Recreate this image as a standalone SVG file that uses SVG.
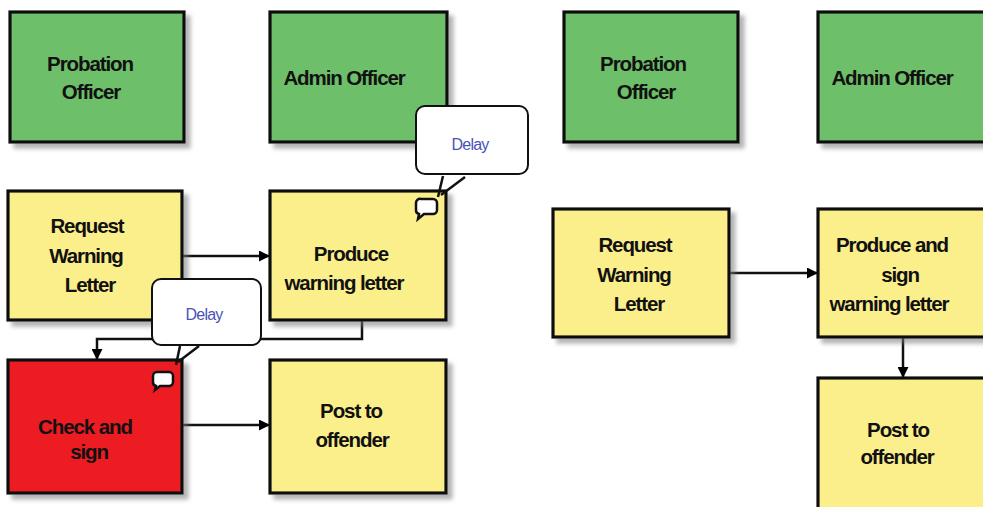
<svg xmlns="http://www.w3.org/2000/svg" width="983" height="507" viewBox="0 0 983 507">
<defs>
<filter id="sh" x="-10%" y="-10%" width="130%" height="130%">
<feDropShadow dx="5" dy="5" stdDeviation="2" flood-color="#777" flood-opacity="0.55"/>
</filter>
<marker id="ah" viewBox="0 0 10 10" refX="10" refY="5" markerWidth="11" markerHeight="11" markerUnits="userSpaceOnUse" orient="auto">
<path d="M0,0 L10,5 L0,10 Z" fill="#000"/>
</marker>
</defs>
<style>
.box{stroke:#111;stroke-width:3.2;filter:url(#sh)}
.g{fill:#6ebf6b}
.y{fill:#fbef8c}
.r{fill:#ec1c24}
.t{font-family:"Liberation Sans",Arial,sans-serif;font-weight:bold;font-size:20.5px;letter-spacing:-1.1px;fill:#111;text-anchor:middle}
.c{fill:none;stroke:#111;stroke-width:2.5}
.bub{fill:#fff;stroke:#111;stroke-width:2}
.d{font-family:"Liberation Sans",Arial,sans-serif;font-size:16px;letter-spacing:-0.8px;fill:#4a52b8;text-anchor:middle}
.tail{stroke:#111;stroke-width:2.5;fill:none}
.ic{fill:#fff;stroke:#111;stroke-width:2.5}
</style>
<rect width="983" height="507" fill="#fff"/>

<g id="connectors">
<line class="c" x1="182" y1="256" x2="270" y2="256" marker-end="url(#ah)"/>
<line class="c" x1="182" y1="425" x2="270" y2="425" marker-end="url(#ah)"/>
<polyline class="c" points="362,320 362,339 97,339 97,360" marker-end="url(#ah)"/>
<line class="c" x1="729" y1="273" x2="818" y2="273" marker-end="url(#ah)"/>
<line class="c" x1="903" y1="337" x2="903" y2="378" marker-end="url(#ah)"/>
</g>

<g id="l-probation">
<rect class="box g" x="10" y="12" width="174" height="130"/>
<text class="t" x="90" y="71">Probation</text>
<text class="t" x="91" y="99">Officer</text>
</g>
<g id="l-admin">
<rect class="box g" x="270" y="12" width="177" height="130"/>
<text class="t" x="344" y="85">Admin Officer</text>
</g>
<g id="l-request">
<rect class="box y" x="8" y="191" width="174" height="129"/>
<text class="t" x="87" y="233">Request</text>
<text class="t" x="86" y="263">Warning</text>
<text class="t" x="90" y="292">Letter</text>
</g>
<g id="l-produce">
<rect class="box y" x="270" y="191" width="176" height="129"/>
<text class="t" x="351" y="261">Produce</text>
<text class="t" x="344" y="290">warning letter</text>
</g>
<g id="l-check">
<rect class="box r" x="8" y="360" width="174" height="133"/>
<text class="t" x="85" y="434">Check and</text>
<text class="t" x="89" y="459">sign</text>
</g>
<g id="l-post">
<rect class="box y" x="270" y="360" width="176" height="133"/>
<text class="t" x="351" y="418">Post to</text>
<text class="t" x="352" y="447">offender</text>
</g>

<g id="delay-1">
<line class="tail" x1="180" y1="346" x2="176" y2="365"/>
<line class="tail" x1="199" y1="346" x2="178" y2="362"/>
<rect class="bub" x="152" y="279" width="109" height="66" rx="9"/>
<text class="d" x="204" y="320">Delay</text>
<path class="ic" d="M157,372 h12 a4,4 0 0 1 4,4 v6 a4,4 0 0 1 -4,4 h-9 l-5,4 l1,-4 a4,4 0 0 1 -3,-4 v-6 a4,4 0 0 1 4,-4 z"/>
</g>
<g id="delay-2">
<line class="tail" x1="443" y1="176" x2="438" y2="197"/>
<line class="tail" x1="465" y1="177" x2="441" y2="195"/>
<rect class="bub" x="416" y="106" width="112" height="68" rx="9"/>
<text class="d" x="470" y="150">Delay</text>
<path class="ic" d="M421,199 h12 a4,4 0 0 1 4,4 v7 a4,4 0 0 1 -4,4 h-9 l-6,5 l1,-5 a4,4 0 0 1 -3,-4 v-7 a4,4 0 0 1 5,-4 z"/>
</g>

<g id="r-probation">
<rect class="box g" x="564" y="12" width="174" height="130"/>
<text class="t" x="643" y="71">Probation</text>
<text class="t" x="646" y="99">Officer</text>
</g>
<g id="r-admin">
<rect class="box g" x="818" y="12" width="175" height="130"/>
<text class="t" x="892" y="85">Admin Officer</text>
</g>
<g id="r-request">
<rect class="box y" x="553" y="209" width="176" height="128"/>
<text class="t" x="635" y="252">Request</text>
<text class="t" x="634" y="282">Warning</text>
<text class="t" x="639" y="311">Letter</text>
</g>
<g id="r-produce">
<rect class="box y" x="818" y="209" width="175" height="128"/>
<text class="t" x="892" y="252">Produce and</text>
<text class="t" x="900" y="282">sign</text>
<text class="t" x="889" y="311">warning letter</text>
</g>
<g id="r-post">
<rect class="box y" x="818" y="378" width="175" height="140"/>
<text class="t" x="898" y="437">Post to</text>
<text class="t" x="897" y="464">offender</text>
</g>
</svg>
